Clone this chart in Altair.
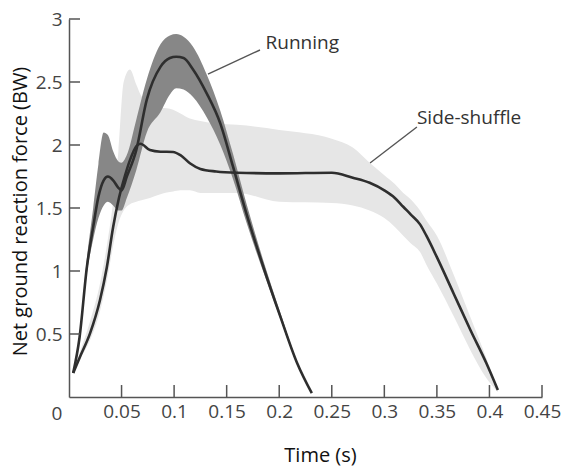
import altair as alt
import pandas as pd

# ---------------- data ----------------
run_t = [0.004, 0.010, 0.017, 0.023, 0.028, 0.033, 0.037, 0.042, 0.047, 0.050,
         0.055, 0.064, 0.074, 0.087, 0.096, 0.102, 0.109, 0.118, 0.131, 0.144,
         0.156, 0.169, 0.185, 0.201, 0.217, 0.231]
run_mean = [0.19, 0.47, 1.03, 1.35, 1.59, 1.72, 1.75, 1.72, 1.66, 1.64,
            1.75, 1.96, 2.36, 2.62, 2.69, 2.70, 2.69, 2.60, 2.41, 2.17,
            1.83, 1.45, 1.03, 0.64, 0.27, 0.03]
run_hi = [0.19, 0.50, 1.10, 1.50, 1.85, 2.10, 2.08, 1.95, 1.87, 1.86,
          1.92, 2.20, 2.52, 2.80, 2.87, 2.88, 2.86, 2.78, 2.56, 2.27,
          1.93, 1.53, 1.08, 0.67, 0.28, 0.03]
run_lo = [0.19, 0.45, 0.98, 1.25, 1.42, 1.52, 1.55, 1.52, 1.48, 1.48,
          1.58, 1.80, 2.10, 2.26, 2.40, 2.45, 2.44, 2.38, 2.22, 2.00,
          1.73, 1.38, 0.99, 0.62, 0.26, 0.03]

side_t = [0.004, 0.0105, 0.020, 0.0295, 0.036, 0.042, 0.047, 0.052, 0.058, 0.064,
          0.068, 0.077, 0.087, 0.099, 0.106, 0.115, 0.125, 0.140, 0.160, 0.200,
          0.250, 0.270, 0.286, 0.300, 0.310, 0.318, 0.325, 0.334, 0.340, 0.350,
          0.366, 0.382, 0.397, 0.408]
side_mean = [0.19, 0.32, 0.505, 0.77, 1.03, 1.35, 1.56, 1.72, 1.88, 1.99,
             2.01, 1.96, 1.947, 1.945, 1.92, 1.855, 1.81, 1.79, 1.78, 1.775,
             1.78, 1.74, 1.70, 1.64, 1.58, 1.51, 1.45, 1.37, 1.28, 1.11,
             0.82, 0.53, 0.27, 0.056]
side_hi = [0.19, 0.36, 0.60, 0.90, 1.20, 1.55, 1.95, 2.50, 2.60, 2.48,
           2.40, 2.33, 2.30, 2.28, 2.25, 2.21, 2.19, 2.17, 2.16, 2.12,
           2.05, 1.98, 1.86, 1.76, 1.69, 1.62, 1.57, 1.48, 1.40, 1.28,
           0.97, 0.63, 0.31, 0.06]
side_lo = [0.19, 0.30, 0.45, 0.68, 0.92, 1.20, 1.38, 1.48, 1.53, 1.55,
           1.56, 1.58, 1.61, 1.63, 1.64, 1.64, 1.62, 1.62, 1.62, 1.55,
           1.54, 1.52, 1.48, 1.42, 1.35, 1.28, 1.22, 1.15, 1.05, 0.90,
           0.64, 0.37, 0.15, 0.04]

x_ticks = [0.05, 0.10, 0.15, 0.20, 0.25, 0.30, 0.35, 0.40, 0.45]
y_ticks = [0.5, 1.0, 1.5, 2.0, 2.5, 3.0]

labels = ["Running", "Side-shuffle"]
label_x = [0.187, 0.331]
label_y = [2.81, 2.215]
leader_x1 = [0.1817, 0.331]
leader_y1 = [2.754, 2.143]
leader_x2 = [0.1322, 0.2864]
leader_y2 = [2.563, 1.857]

# ---------------- frames ----------------
run_df = pd.DataFrame({"t": run_t, "m": run_mean, "hi": run_hi, "lo": run_lo})
side_df = pd.DataFrame({"t": side_t, "m": side_mean, "hi": side_hi, "lo": side_lo})
xt_df = pd.DataFrame({"v": x_ticks})
yt_df = pd.DataFrame({"v": y_ticks})
lab_df = pd.DataFrame({"lab": labels, "x": label_x, "y": label_y})
lead_df = pd.DataFrame({"x1": leader_x1, "y1": leader_y1, "x2": leader_x2, "y2": leader_y2})

FONT = "Open Sans"
XS = alt.Scale(domain=[0, 0.45], nice=False, zero=False)
YS = alt.Scale(domain=[0, 3], nice=False, zero=False)

X_TICK_LEN = 0.095   # tick length in y data units
Y_TICK_LEN = 0.0105  # tick length in x data units

xaxis = alt.Axis(values=x_ticks, ticks=False, grid=False, domain=True,
                 format="~g",
                 labelFont=FONT, labelFontSize=19, labelColor="#444444",
                 labelPadding=5, labelFlush=False,
                 title="Time (s)", titleFont=FONT, titleFontSize=20,
                 titleFontWeight="normal", titleColor="#111111",
                 titleX=251, titleY=58, titleBaseline="middle")
yaxis = alt.Axis(values=y_ticks, ticks=False, grid=False, domain=True,
                 format="~g",
                 labelFont=FONT, labelFontSize=19, labelColor="#444444",
                 labelPadding=7, labelFlush=False,
                 title="Net ground reaction force (BW)", titleFont=FONT,
                 titleFontSize=20, titleFontWeight="normal", titleColor="#111111",
                 titleAngle=-90, titleX=-49, titleY=192, titleAlign="center",
                 titleBaseline="middle")

side_band = alt.Chart(side_df).mark_area(color="#e6e6e6", interpolate="monotone").encode(
    x=alt.X("t:Q", scale=XS, axis=xaxis),
    y=alt.Y("hi:Q", scale=YS, axis=yaxis),
    y2="lo:Q",
)
run_band = alt.Chart(run_df).mark_area(color="#878787", interpolate="monotone").encode(
    x=alt.X("t:Q", scale=XS),
    y=alt.Y("hi:Q", scale=YS),
    y2="lo:Q",
)
side_line = alt.Chart(side_df).mark_line(color="#2e2e2e", strokeWidth=2.6,
                                         interpolate="monotone").encode(
    x=alt.X("t:Q", scale=XS), y=alt.Y("m:Q", scale=YS))
run_line = alt.Chart(run_df).mark_line(color="#2e2e2e", strokeWidth=2.6,
                                       interpolate="monotone").encode(
    x=alt.X("t:Q", scale=XS), y=alt.Y("m:Q", scale=YS))

xticks = alt.Chart(xt_df).mark_rule(color="#555555", strokeWidth=1.5).encode(
    x=alt.X("v:Q", scale=XS), y=alt.datum(0), y2=alt.datum(X_TICK_LEN))
yticks = alt.Chart(yt_df).mark_rule(color="#555555", strokeWidth=1.5).encode(
    y=alt.Y("v:Q", scale=YS), x=alt.datum(0), x2=alt.datum(Y_TICK_LEN))

zero_lab = alt.Chart(pd.DataFrame({"v": [0]})).mark_text(
    font=FONT, fontSize=19, color="#444444", dx=-12, dy=17, baseline="middle",
    align="center").encode(x=alt.X("v:Q", scale=XS), y=alt.datum(0), text=alt.Text("v:Q"))

leaders = alt.Chart(lead_df).mark_rule(color="#555555", strokeWidth=1.4).encode(
    x=alt.X("x1:Q", scale=XS), y=alt.Y("y1:Q", scale=YS), x2="x2:Q", y2="y2:Q")
texts = alt.Chart(lab_df).mark_text(font=FONT, fontSize=19, color="#333333",
                                    align="left", baseline="middle").encode(
    x=alt.X("x:Q", scale=XS), y=alt.Y("y:Q", scale=YS), text="lab:N")

chart = alt.layer(side_band, run_band, side_line, run_line, xticks, yticks,
                  zero_lab, leaders, texts).properties(
    width=473, height=378,
    autosize=alt.AutoSizeParams(type="none"),
    padding={"left": 69, "top": 19, "right": 23, "bottom": 71},
).configure_view(stroke=None).configure_axis(
    domainColor="#555555", domainWidth=1.5)

chart.save("out.html", embed_options={"renderer": "svg", "actions": False})
